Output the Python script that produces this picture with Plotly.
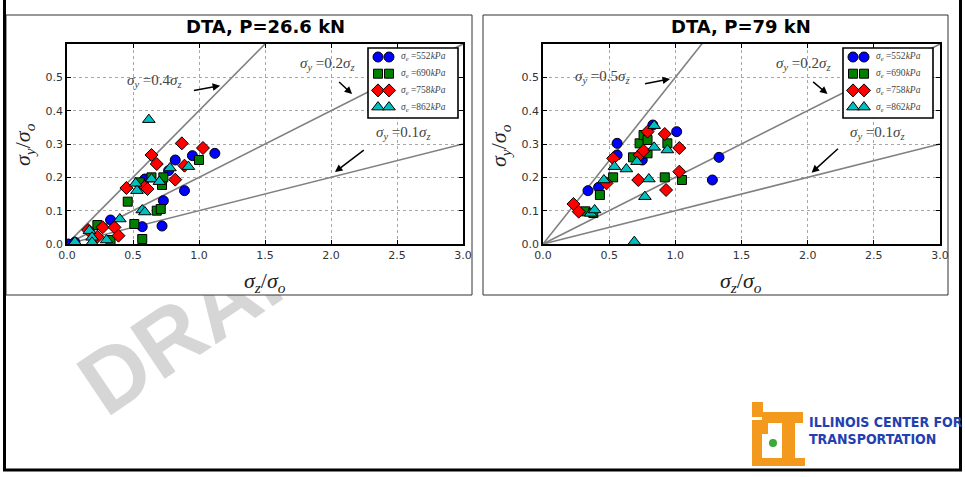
import plotly.graph_objects as go

W, H = 965, 477


def px(x):
    return x / W


def py(y):
    return 1 - y / H


# ---- data -------------------------------------------------------------
titles = ["DTA, P=26.6 kN", "DTA, P=79 kN"]
pressures = ["552", "690", "758", "862"]

# reference ratio lines sigma_y = k * sigma_z
left_slopes = [0.4, 0.2, 0.1]
right_slopes = [0.5, 0.2, 0.1]
line_x = [0.0, 3.0]

# P = 26.6 kN
l552_x = [0.01, 0.06, 0.33, 0.57, 0.59, 0.72, 0.73, 0.77, 0.82, 0.89, 0.95, 1.12]
l552_y = [0.0, 0.005, 0.072, 0.052, 0.195, 0.054, 0.13, 0.22, 0.252, 0.16, 0.265, 0.272]
l690_x = [0.23, 0.33, 0.46, 0.51, 0.55, 0.57, 0.64, 0.68, 0.71, 0.72, 0.73, 1.0]
l690_y = [0.057, 0.012, 0.127, 0.06, 0.185, 0.015, 0.2, 0.1, 0.105, 0.177, 0.2, 0.252]
l758_x = [0.16, 0.23, 0.27, 0.36, 0.39, 0.45, 0.59, 0.61, 0.64, 0.68, 0.82, 0.87, 0.89, 1.03]
l758_y = [0.042, 0.022, 0.05, 0.05, 0.025, 0.168, 0.172, 0.165, 0.267, 0.24, 0.193, 0.302, 0.235, 0.288]
l862_x = [0.06, 0.17, 0.19, 0.19, 0.3, 0.4, 0.52, 0.53, 0.57, 0.59, 0.62, 0.64, 0.7, 0.78, 0.92]
l862_y = [0.006, 0.04, 0.02, 0.005, 0.012, 0.075, 0.182, 0.16, 0.102, 0.096, 0.373, 0.195, 0.187, 0.228, 0.232]

# P = 79 kN
r552_x = [0.34, 0.42, 0.56, 0.56, 0.75, 0.83, 1.01, 1.28, 1.33]
r552_y = [0.16, 0.17, 0.302, 0.267, 0.252, 0.357, 0.337, 0.192, 0.26]
r690_x = [0.32, 0.38, 0.43, 0.53, 0.68, 0.73, 0.76, 0.79, 0.79, 0.92, 0.94, 1.05]
r690_y = [0.098, 0.093, 0.147, 0.2, 0.26, 0.302, 0.327, 0.312, 0.272, 0.2, 0.302, 0.192]
r758_x = [0.23, 0.27, 0.48, 0.53, 0.72, 0.73, 0.76, 0.79, 0.92, 0.93, 1.03, 1.03]
r758_y = [0.12, 0.097, 0.182, 0.257, 0.192, 0.267, 0.28, 0.337, 0.33, 0.162, 0.288, 0.217]
r862_x = [0.36, 0.39, 0.46, 0.54, 0.63, 0.69, 0.71, 0.77, 0.8, 0.84, 0.84, 0.94]
r862_y = [0.092, 0.102, 0.192, 0.232, 0.225, 0.007, 0.247, 0.142, 0.195, 0.355, 0.29, 0.282]

x_ticks = [0.0, 0.5, 1.0, 1.5, 2.0, 2.5, 3.0]
y_ticks = [0.0, 0.1, 0.2, 0.3, 0.4, 0.5]

left_series = [(l552_x, l552_y), (l690_x, l690_y), (l758_x, l758_y), (l862_x, l862_y)]
right_series = [(r552_x, r552_y), (r690_x, r690_y), (r758_x, r758_y), (r862_x, r862_y)]

# ---- styling ------------------------------------------------------------
symbols = ["circle", "square", "diamond", "triangle-up"]
colors = ["#0000ff", "#008000", "#ff0000", "#00bfbf"]
sizes = [10, 9, 10, 11]
SERIF = "Liberation Serif, Times New Roman, serif"
SANS = "DejaVu Sans, sans-serif"

fig = go.Figure()

panels = [
    dict(series=left_series, slopes=left_slopes, xa="x", ya="y", legend_left=368),
    dict(series=right_series, slopes=right_slopes, xa="x2", ya="y2", legend_left=843),
]

for p in panels:
    for k in p["slopes"]:
        fig.add_trace(go.Scatter(
            x=line_x, y=[k * v for v in line_x], mode="lines",
            line=dict(color="#808080", width=1.6), showlegend=False,
            hoverinfo="skip", xaxis=p["xa"], yaxis=p["ya"]))
    for (sx, sy), sym, col, sz, pr in zip(p["series"], symbols, colors, sizes, pressures):
        fig.add_trace(go.Scatter(
            x=sx, y=sy, mode="markers",
            marker=dict(symbol=sym, color=col, size=sz,
                        line=dict(color="black", width=1)),
            name=f"σe={pr}kPa", showlegend=False,
            xaxis=p["xa"], yaxis=p["ya"]))

# ---- legend boxes (two keys per entry) on a pixel-space overlay -----------
LEG_W, LEG_H, LEG_TOP = 90, 70, 48
ROW0, ROW_STEP = 9, 16.7
KEY_DX = [10, 21]
LABEL_DX = 31

shapes = []
legend_labels = []
for p in panels:
    x0 = p["legend_left"]
    shapes.append(dict(type="rect", xref="x3", yref="y3", x0=x0, x1=x0 + LEG_W,
                       y0=LEG_TOP, y1=LEG_TOP + LEG_H, layer="below",
                       line=dict(color="black", width=1.6), fillcolor="white"))
    for i, (sym, col, sz, pr) in enumerate(zip(symbols, colors, sizes, pressures)):
        row = LEG_TOP + ROW0 + i * ROW_STEP
        fig.add_trace(go.Scatter(
            x=[x0 + d for d in KEY_DX], y=[row, row], mode="markers",
            marker=dict(symbol=sym, color=col, size=sz,
                        line=dict(color="black", width=1)),
            showlegend=False, hoverinfo="skip", xaxis="x3", yaxis="y3"))
        legend_labels.append((f"<i>σ<sub>e</sub></i> =552<i>kPa</i>".replace("552", pr),
                              x0 + LABEL_DX, row))

axis_common = dict(
    showline=True, linecolor="black", linewidth=1.8, mirror="ticks",
    ticks="inside", ticklen=4, tickwidth=1, tickcolor="black",
    showgrid=True, gridcolor="#a8a8a8", griddash="dot", gridwidth=1,
    zeroline=False, tickfont=dict(family=SANS, size=11, color="#333333"),
)

fig.update_layout(
    width=W, height=H,
    margin=dict(l=0, r=0, t=0, b=0, pad=0, autoexpand=False),
    paper_bgcolor="white", plot_bgcolor="rgba(0,0,0,0)", showlegend=False,
    xaxis=dict(domain=[px(67), px(463)], range=[0, 3], tickvals=x_ticks,
               ticktext=[f"{v:.1f}" for v in x_ticks], anchor="y", **axis_common),
    yaxis=dict(domain=[py(244), py(44)], range=[0, 0.6], tickvals=y_ticks,
               ticktext=[f"{v:.1f}" for v in y_ticks], anchor="x", **axis_common),
    xaxis2=dict(domain=[px(543), px(940)], range=[0, 3], tickvals=x_ticks,
                ticktext=[f"{v:.1f}" for v in x_ticks], anchor="y2", **axis_common),
    yaxis2=dict(domain=[py(244), py(44)], range=[0, 0.6], tickvals=y_ticks,
                ticktext=[f"{v:.1f}" for v in y_ticks], anchor="x2", **axis_common),
    xaxis3=dict(domain=[0, 1], range=[0, W], visible=False, fixedrange=True,
                anchor="y3"),
    yaxis3=dict(domain=[0, 1], range=[H, 0], visible=False, fixedrange=True,
                anchor="x3"),
)

# faint watermark behind the two chart panels
shapes.insert(0, dict(
    type="rect", xref="paper", yref="paper",
    x0=px(205), x1=px(215), y0=py(305), y1=py(295),
    line=dict(width=0), fillcolor="rgba(0,0,0,0)", layer="below",
    label=dict(text="DRAFT", textangle=-34, textposition="middle center",
               font=dict(family="Liberation Sans, Arial, sans-serif", size=90,
                         color="#d6d6d6", weight="bold"))))
# white panel frames
for x0, x1 in [(6, 472), (483, 948)]:
    shapes.insert(1, dict(type="rect", xref="paper", yref="paper",
                          x0=px(x0), x1=px(x1), y0=py(295), y1=py(15),
                          line=dict(color="#333333", width=1), fillcolor="white",
                          layer="below"))
# slide frame
shapes.append(dict(type="rect", xref="paper", yref="paper",
                   x0=px(4.5), x1=px(960.5), y0=py(470), y1=py(-10),
                   line=dict(color="black", width=3), fillcolor="rgba(0,0,0,0)",
                   layer="above"))
# ICT logo mark
ORANGE = "#f39a1e"
for (a, b, c, d) in [(752, 402, 763, 417), (752, 420, 762, 466), (762, 412, 803, 423),
                     (782, 423, 795, 466), (762, 458, 805, 466), (762, 420, 768, 434)]:
    shapes.append(dict(type="rect", xref="paper", yref="paper",
                       x0=px(a), x1=px(c), y0=py(d), y1=py(b),
                       line=dict(width=0), fillcolor=ORANGE, layer="above"))
shapes.append(dict(type="circle", xref="paper", yref="paper",
                   x0=px(769), x1=px(777), y0=py(447), y1=py(439),
                   line=dict(width=0), fillcolor="#3aa935", layer="above"))
fig.update_layout(shapes=shapes)

ann = []


def paper_text(text, x, y, size, family, color, xanchor="center", angle=0):
    return dict(text=text, x=px(x), y=py(y), xref="paper", yref="paper",
                xanchor=xanchor, yanchor="middle", showarrow=False, textangle=angle,
                font=dict(family=family, size=size, color=color))


# panel titles
for t, cx in zip(titles, [265, 741]):
    ann.append(paper_text(f"<b>{t}</b>", cx, 27, 18, SANS, "black"))
# axis titles
for cx in [265, 741]:
    ann.append(paper_text("<i>σ<sub>z</sub></i>/<i>σ<sub>o</sub></i>", cx, 282, 22,
                          SERIF, "#222222"))
for cx in [24, 500]:
    ann.append(paper_text("<i>σ<sub>y</sub></i>/<i>σ<sub>o</sub></i>", cx, 145, 22,
                          SERIF, "#222222", angle=-90))
# legend labels
for text, lx, ly in legend_labels:
    ann.append(paper_text(text, lx, ly, 9.5, SERIF, "#444444", xanchor="left"))

# ratio-line labels with arrows (text pos, arrow tail, arrow head)
label_pos = {
    "x": [((0.66, 0.49), (0.95, 0.46), (1.16, 0.475)),
          ((1.97, 0.54), (2.05, 0.49), (2.16, 0.45)),
          ((2.55, 0.333), (2.26, 0.285), (2.03, 0.216))],
    "x2": [((0.45, 0.50), (0.76, 0.48), (0.96, 0.495)),
           ((1.97, 0.54), (2.03, 0.49), (2.15, 0.45)),
           ((2.53, 0.333), (2.24, 0.29), (2.03, 0.214))],
}
for p in panels:
    for k, (tp, tail, head) in zip(p["slopes"], label_pos[p["xa"]]):
        ann.append(dict(text=f"<i>σ<sub>y</sub></i> ={k}<i>σ<sub>z</sub></i>",
                        x=tp[0], y=tp[1], xref=p["xa"], yref=p["ya"], showarrow=False,
                        xanchor="center", yanchor="middle",
                        font=dict(family=SERIF, size=15, color="#444444")))
        ann.append(dict(text="", x=head[0], y=head[1], ax=tail[0], ay=tail[1],
                        xref=p["xa"], yref=p["ya"], axref=p["xa"], ayref=p["ya"],
                        showarrow=True, arrowhead=2, arrowsize=1, arrowwidth=1.5,
                        arrowcolor="black"))

# logo text
LOGO_FONT = "Liberation Sans Narrow, DejaVu Sans Condensed, Arial Narrow, sans-serif"
for t, cy in [("ILLINOIS CENTER FOR", 422), ("TRANSPORTATION", 439)]:
    ann.append(paper_text(f"<b>{t}</b>", 807, cy, 14, LOGO_FONT, "#2340b0",
                          xanchor="left"))

fig.update_layout(annotations=ann)
fig.write_html("out.html")
